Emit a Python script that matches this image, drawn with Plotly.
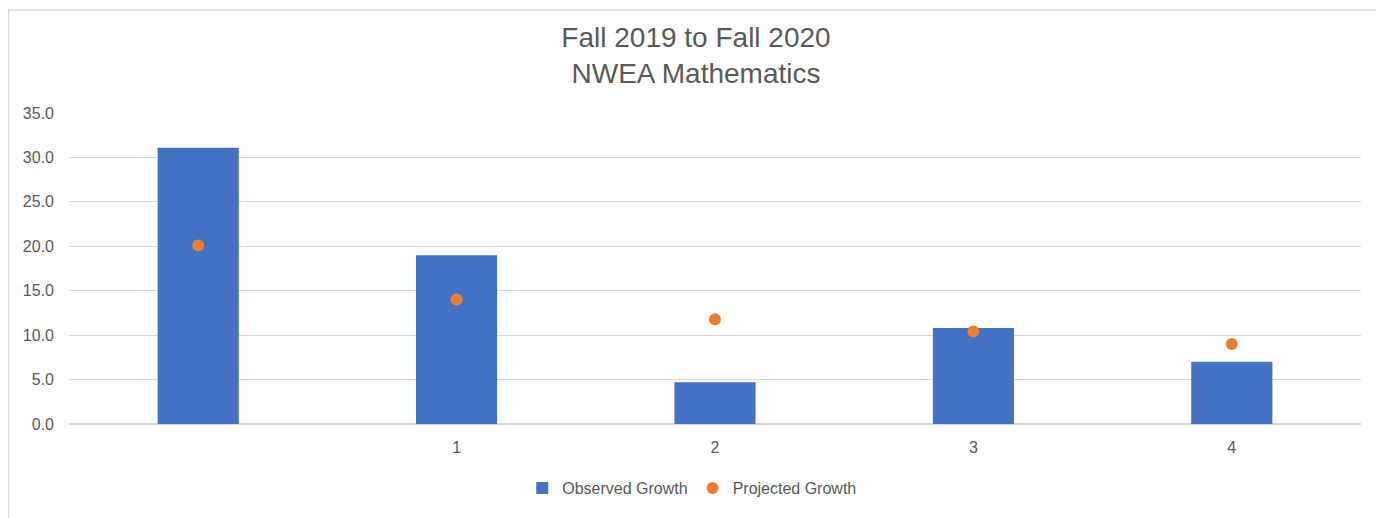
import plotly.graph_objects as go

categories = ["", "1", "2", "3", "4"]
observed_growth = [31.1, 19.0, 4.7, 10.8, 7.0]
projected_growth = [20.1, 14.0, 11.8, 10.4, 9.0]
positions = list(range(len(categories)))

fig = go.Figure()
fig.add_trace(go.Bar(
    x=positions, y=observed_growth, name="Observed Growth",
    marker=dict(color="#4472C4", line=dict(width=0)),
))
fig.add_trace(go.Scatter(
    x=positions, y=projected_growth, name="Projected Growth", mode="markers",
    marker=dict(color="#ED7D31", size=12),
))

fig.update_layout(
    width=1376, height=510,
    paper_bgcolor="white", plot_bgcolor="white",
    margin=dict(l=61, r=23, t=105, b=94),
    font=dict(family="Liberation Sans, Arial, sans-serif", color="#595959", size=16),
    title=dict(text="Fall 2019 to Fall 2020<br>NWEA Mathematics", x=0.5, xanchor="center",
               y=0.924, yanchor="middle",
               font=dict(size=28, color="#595959", family="Liberation Sans, Arial, sans-serif")),
    bargap=0.686,
    showlegend=True,
    legend=dict(orientation="h", x=0.482, xanchor="center", y=-0.206, yanchor="middle",
                font=dict(size=16, color="#595959"), itemwidth=30),
    xaxis=dict(range=[-0.5, 4.5], tickvals=positions, ticktext=categories,
               showgrid=False, zeroline=False, showline=False, ticks="",
               ticklabelstandoff=12,
               tickfont=dict(size=16, color="#595959")),
    yaxis=dict(range=[0, 35], dtick=5, tickformat=".1f", showgrid=True,
               gridcolor="#d9d9d9", gridwidth=1, zeroline=True, zerolinecolor="#d9d9d9",
               showline=False, ticks="", ticklabelstandoff=14,
               tickfont=dict(size=16, color="#595959")),
    shapes=[dict(type="rect", xref="paper", yref="paper", x0=-0.0468, x1=1.0145,
                 y0=-0.4, y1=1.331, line=dict(color="#d9d9d9", width=1.5),
                 fillcolor="rgba(0,0,0,0)", layer="below")],
)

fig.write_html("out.html")
